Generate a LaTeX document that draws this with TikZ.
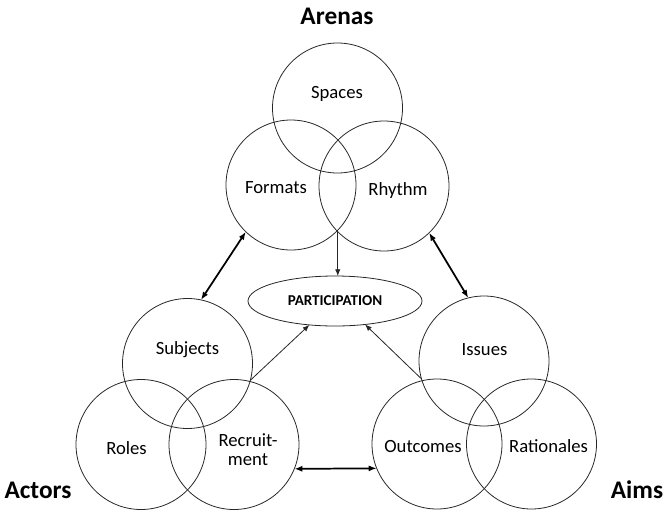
\documentclass[tikz,border=0pt]{standalone}
\usepackage{fontspec}
\setmainfont{Carlito}
\usepackage{tikz}
\usetikzlibrary{
  arrows.meta,
  shapes.geometric
}
\colorlet{rim}{black!85}
\tikzset{
  venn/.style={circle,draw=rim,line width=0.6pt,minimum size=97.5pt,inner sep=0pt,outer sep=0pt},
  vennlabel/.style={font=\fontsize{14}{14.5}\selectfont,align=center,inner sep=0pt},
  grouplabel/.style={font=\bfseries\fontsize{19}{21}\selectfont,inner sep=0pt},
}
\begin{document}
\begin{tikzpicture}[
  x=0.75pt,y=-0.75pt,
  participation/.style={ellipse,draw=rim,line width=0.6pt,minimum width=130.5pt,minimum height=37.5pt,
    inner sep=0pt,outer sep=0pt,font=\bfseries\fontsize{11.3}{13}\selectfont},
  twoway/.style={{Latex[length=6pt,width=4.5pt]}-{Latex[length=6pt,width=4.5pt]},line width=1.3pt},
  feed/.style={-{Latex[length=5pt,width=4pt]},line width=0.6pt,draw=rim},
]
\useasboundingbox (0,0) rectangle (668,511);
% circles
\foreach \name/\x/\y in {spaces/337.5/108,formats/291/185,rhythm/384/186,
  subjects/187.5/363.5,roles/141/444.5,recruitment/234/444.5,
  issues/484/361,outcomes/437/444,rationales/531.5/444} {
  \node[venn] (\name) at (\x,\y) {};
}
% circle texts
\foreach \name/\x/\y/\txt in {spacesT/337/94/Spaces,formatsT/276/188/Formats,rhythmT/398/190.5/Rhythm,
  subjectsT/187.5/350/Subjects,rolesT/126.5/448/Roles,recruitmentT/248/449.5/{Recruit-\\ment},
  issuesT/484.5/349.5/Issues,outcomesT/423/446.5/Outcomes,rationalesT/548.5/446.5/Rationales} {
  \node[vennlabel] (\name) at (\x,\y) {\txt};
}
\node[grouplabel] (arenas) at (337,16) {Arenas};
\node[grouplabel] (actors) at (38,490) {Actors};
\node[grouplabel] (aims) at (637,490) {Aims};

\node[participation] (part) at (335,301) {PARTICIPATION};

% links
\draw[twoway] (formats.226) -- (subjects.78);
\draw[twoway] (rhythm.314) -- (issues.104);
\draw[twoway] (recruitment.-22) -- (outcomes.202);
\draw[feed] (formats.-44) -- (formats.-44 |- part.north);
\draw[feed] (subjects.-15) -- (part.223);
\draw[feed] (issues.196) -- (part.322);
\end{tikzpicture}
\end{document}
